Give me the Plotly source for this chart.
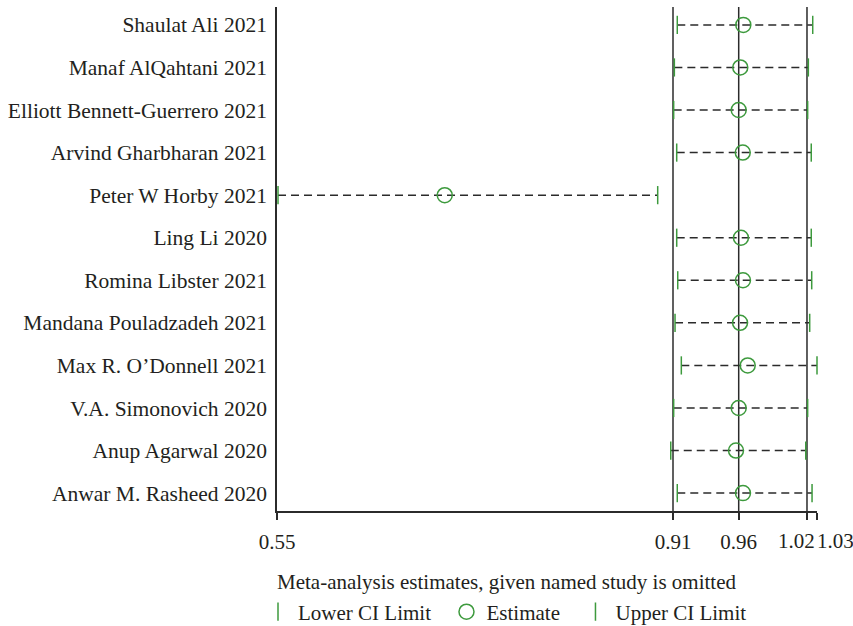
import plotly.graph_objects as go

studies = ["Shaulat Ali 2021", "Manaf AlQahtani 2021", "Elliott Bennett-Guerrero 2021",
           "Arvind Gharbharan 2021", "Peter W Horby 2021", "Ling Li 2020",
           "Romina Libster 2021", "Mandana Pouladzadeh 2021", "Max R. O\u2019Donnell 2021",
           "V.A. Simonovich 2020", "Anup Agarwal 2020", "Anwar M. Rasheed 2020"]
estimate = [0.9645, 0.9618, 0.9604, 0.9640, 0.6991, 0.9624,
            0.9642, 0.9616, 0.9684, 0.9604, 0.9580, 0.9642]
lower_ci = [0.9058, 0.9032, 0.9026, 0.9053, 0.5509, 0.9053,
            0.9062, 0.9038, 0.9094, 0.9026, 0.9000, 0.9058]
upper_ci = [1.0262, 1.0223, 1.0217, 1.0249, 0.8884, 1.0249,
            1.0253, 1.0235, 1.0300, 1.0217, 1.0200, 1.0256]

overall_lines = [0.9020, 0.9604, 1.0211]
tick_vals = [0.55, 0.9020, 0.9604, 1.0211, 1.03]
tick_text = ["0.55", "0.91", "0.96", "1.02", "1.03"]
legend_names = ["Lower CI Limit", "Estimate", "Upper CI Limit"]
title_text = "Meta-analysis estimates, given named study is omitted"

GREEN = "#3d9a3d"
INK = "#231f20"
LINE = "#2b2b2b"
FONT = "Liberation Serif"
PAD = "\u00a0\u00a0"

rows = list(range(1, len(studies) + 1))

fig = go.Figure()

# dashed CI lines
xs, ys = [], []
for r, lo, hi in zip(rows, lower_ci, upper_ci):
    xs += [lo, hi, None]
    ys += [r, r, None]
fig.add_trace(go.Scatter(x=xs, y=ys, mode="lines", showlegend=False,
                         line=dict(color=LINE, width=1.5, dash="8px,5px"),
                         hoverinfo="skip", cliponaxis=False))

fig.add_trace(go.Scatter(x=lower_ci, y=rows, mode="markers", name=legend_names[0] + PAD,
                         marker=dict(symbol="line-ns", size=13, color=GREEN,
                                     line=dict(color=GREEN, width=1.5)),
                         cliponaxis=False))
fig.add_trace(go.Scatter(x=estimate, y=rows, mode="markers", name=legend_names[1] + PAD,
                         marker=dict(symbol="circle-open", size=15, color=GREEN,
                                     line=dict(color=GREEN, width=1.5)),
                         cliponaxis=False))
fig.add_trace(go.Scatter(x=upper_ci, y=rows, mode="markers", name=legend_names[2],
                         marker=dict(symbol="line-ns", size=13, color=GREEN,
                                     line=dict(color=GREEN, width=1.5)),
                         cliponaxis=False))

for v in overall_lines:
    fig.add_shape(type="line", xref="x", yref="paper", x0=v, x1=v, y0=0, y1=1,
                  line=dict(color=LINE, width=1.5), layer="below")

# labels for the two crowded ticks, placed beside their ticks
fig.add_annotation(x=tick_vals[3], y=0, xref="x", yref="paper", yanchor="top",
                   xanchor="right", xshift=10, yshift=-16, showarrow=False,
                   text=tick_text[3], font=dict(family=FONT, size=21, color=INK))
fig.add_annotation(x=tick_vals[4], y=0, xref="x", yref="paper", yanchor="top",
                   xanchor="left", xshift=-2, yshift=-16, showarrow=False,
                   text=tick_text[4], font=dict(family=FONT, size=21, color=INK))

plot_h = 626 - 7 - 115
fig.add_annotation(x=0, y=(626 - 115 - 582) / plot_h, xref="paper", yref="paper",
                   showarrow=False, text=title_text,
                   xanchor="left", yanchor="middle", xshift=-2,
                   font=dict(family=FONT, size=21, color=INK))

fig.update_layout(
    width=853, height=626,
    margin=dict(l=277, r=36, t=7, b=115, autoexpand=False),
    paper_bgcolor="white", plot_bgcolor="white",
    font=dict(family=FONT, size=21, color=INK),
    xaxis=dict(range=[0.55, 1.03], tickvals=tick_vals,
               ticktext=tick_text[:3] + ["", ""],
               showgrid=False, zeroline=False, showline=True,
               linecolor=LINE, linewidth=1.5,
               ticks="outside", ticklen=7, tickwidth=1.5, tickcolor=LINE,
               ticklabelstandoff=4, automargin=False,
               tickangle=0, tickfont=dict(family=FONT, size=21, color=INK)),
    yaxis=dict(range=[12.42, 0.58], tickvals=rows, ticktext=studies,
               showgrid=False, zeroline=False, showline=True,
               linecolor=LINE, linewidth=1.5, ticks="",
               ticklabelstandoff=4, automargin=False,
               tickfont=dict(family=FONT, size=21.5, color=INK)),
    legend=dict(orientation="h", x=-19 / 540, xanchor="left",
                y=-(612 - 511) / plot_h, yanchor="middle",
                font=dict(family=FONT, size=21, color=INK),
                itemwidth=30, tracegroupgap=0, bgcolor="rgba(0,0,0,0)"),
)

fig.write_html("out.html")
